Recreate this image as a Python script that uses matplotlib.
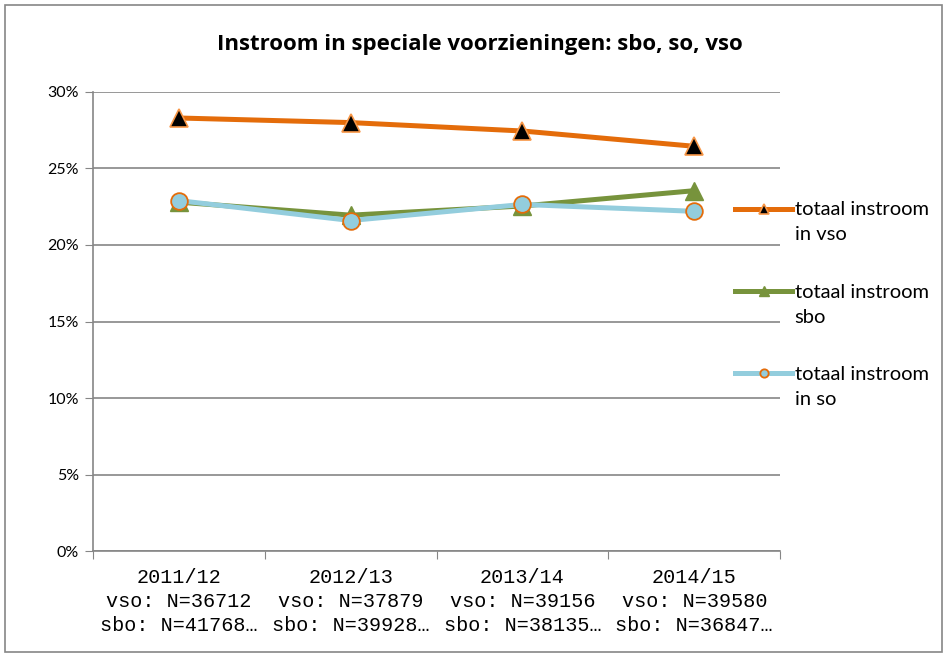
import matplotlib.pyplot as plt
from matplotlib.patches import Rectangle

# chart data
years = ["2011/12", "2012/13", "2013/14", "2014/15"]
n_vso = ["36712", "37879", "39156", "39580"]
n_sbo = ["41768…", "39928…", "38135…", "36847…"]

vso = [28.3, 28.0, 27.45, 26.45]
sbo = [22.8, 21.95, 22.55, 23.55]
so = [22.9, 21.6, 22.65, 22.2]

labels = ["totaal instroom\nin vso", "totaal instroom\nsbo", "totaal instroom\nin so"]

orange = "#E46C0A"
light_orange = "#F79646"
green = "#77933C"
blue = "#93CDDD"
grid = "#868686"

fig = plt.figure(figsize=(9.48, 6.57), dpi=100)
ax = fig.add_axes([0.098, 0.1613, 0.725, 0.6987])

x = list(range(len(years)))
ax.plot(x, vso, color=orange, lw=3.6, marker="^", ms=13,
        mfc="black", mec=light_orange, mew=1.2, label=labels[0], zorder=5)
ax.plot(x, sbo, color=green, lw=3.6, marker="^", ms=13,
        mfc=green, mec=green, label=labels[1], zorder=3)
ax.plot(x, so, color=blue, lw=3.6, marker="o", ms=12,
        mfc=blue, mec=orange, mew=1.3, label=labels[2], zorder=4)

ax.set_xlim(-0.5, len(years) - 0.5)
ax.set_ylim(0, 30)
ax.set_yticks(range(0, 31, 5))
ax.set_yticklabels([f"{v}%" for v in range(0, 31, 5)],
                   fontfamily="Lato", fontsize=11.5)
ax.yaxis.grid(True, color=grid, lw=1.2)
ax.set_axisbelow(True)

# category boundaries as major ticks, labels on minor ticks
ax.set_xticks([i - 0.5 for i in range(len(years) + 1)])
ax.set_xticklabels([])
ax.set_xticks(x, minor=True)
ax.set_xticklabels([f"{y}\nvso: N={a}\nsbo: N={b}" for y, a, b in zip(years, n_vso, n_sbo)],
                   minor=True, fontfamily="Liberation Mono",
                   fontsize=14.5, linespacing=1.35)
ax.tick_params(axis="x", which="minor", length=0, pad=12)
ax.tick_params(axis="x", which="major", length=6, color=grid)
ax.tick_params(axis="y", length=6, color=grid, pad=4)

for s in ["top", "right"]:
    ax.spines[s].set_visible(False)
for s in ["left", "bottom"]:
    ax.spines[s].set_color(grid)
    ax.spines[s].set_linewidth(1.2)

fig.text(0.506, 0.932, "Instroom in speciale voorzieningen: sbo, so, vso",
         ha="center", va="center", fontfamily="Open Sans", fontweight="bold",
         fontsize=16)

leg = ax.legend(loc="upper left", bbox_to_anchor=(0.908, 0.801), frameon=False,
                prop={"family": "Lato", "size": 14.5}, handlelength=2.85,
                handletextpad=0.1, labelspacing=2.0, markerscale=0.5)
for t in leg.get_texts():
    t.set_linespacing(1.57)
# put the handle level with the first line of each label
for col in leg._legend_handle_box.get_children():
    for row in col.get_children():
        row.align = "top"

fig.patches.append(Rectangle((0.005, 0.008), 0.989, 0.985, transform=fig.transFigure,
                             fill=False, edgecolor=grid, lw=1.2))

fig.savefig("out.png", dpi=100)
